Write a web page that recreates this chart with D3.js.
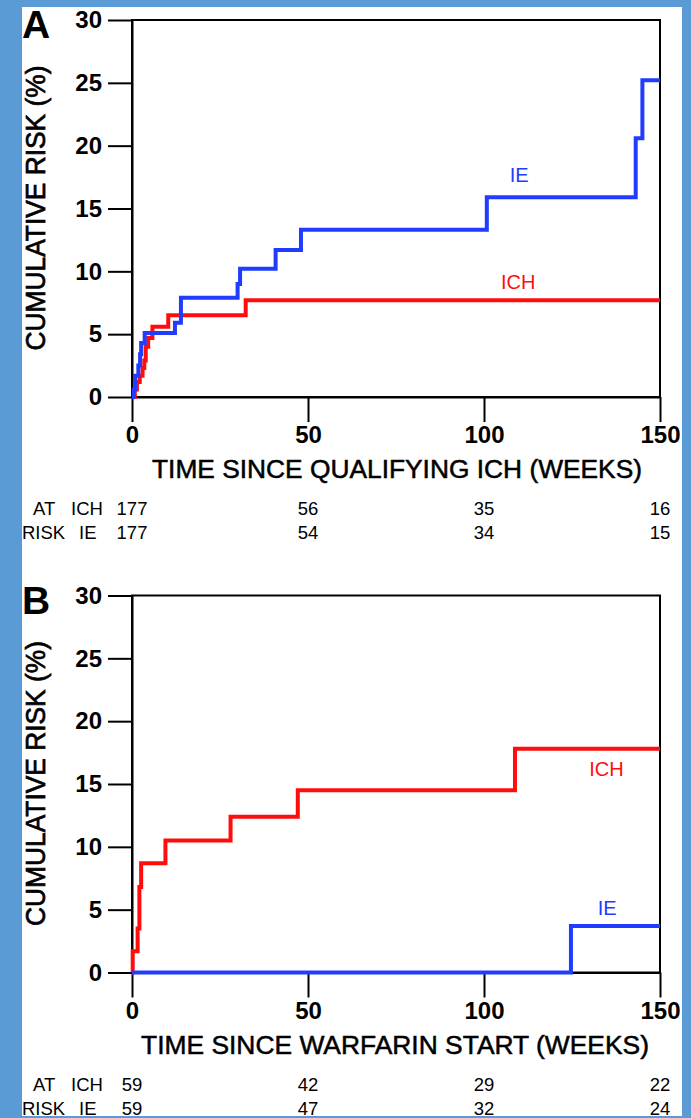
<!DOCTYPE html>
<html>
<head>
<meta charset="utf-8">
<script src="https://cdn.jsdelivr.net/npm/d3@7"></script>
<style>
  body { margin: 0; background: #5b9bd5; }
  svg { display: block; }
</style>
</head>
<body>
<script>
// Axis ticks shared by both panels
const weekTicks = [0, 50, 100, 150];
const riskTicks = [0, 5, 10, 15, 20, 25, 30];

// Panel A: cumulative risk since the qualifying ICH (Kaplan-Meier steps)
const aIchWeeks = [0, 0.8, 1.4, 2.2, 3.0, 3.5, 3.9, 4.6, 5.8, 10.3, 32.3, 150];
const aIchRisk  = [0, 0.6, 1.2, 1.7, 2.3, 2.9, 4.0, 4.7, 5.6, 6.5, 7.7, 7.7];
const aIeWeeks  = [0, 0.5, 0.9, 1.8, 2.3, 2.6, 3.6, 12.2, 13.9, 30.0, 30.7, 40.8, 48.0, 100.8, 143.1, 145.0, 150];
const aIeRisk   = [0, 0.6, 1.7, 2.5, 3.4, 4.3, 5.1, 5.9, 7.9, 9.0, 10.2, 11.7, 13.3, 15.9, 20.6, 25.2, 25.2];
const aAtRiskIch = [177, 56, 35, 16];
const aAtRiskIe  = [177, 54, 34, 15];

// Panel B: cumulative risk since warfarin start
const bIchWeeks = [0, 0.2, 1.6, 2.1, 2.6, 9.5, 28.0, 47.1, 108.8, 150];
const bIchRisk  = [0, 1.7, 3.5, 6.8, 8.7, 10.5, 12.4, 14.5, 17.8, 17.8];
const bIeWeeks  = [0, 124.7, 150];
const bIeRisk   = [0, 3.7, 3.7];
const bAtRiskIch = [59, 42, 29, 22];
const bAtRiskIe  = [59, 47, 32, 24];

const W = 691, H = 1118;
const FONT = "'Liberation Sans', Arial, Helvetica, sans-serif";
const BLUE = "#1f3cff", RED = "#ff0d0d";

const svg = d3.select("body").append("svg")
  .attr("width", W).attr("height", H)
  .style("font-family", FONT);

svg.append("rect").attr("width", W).attr("height", H).attr("fill", "#5b9bd5");
svg.append("rect").attr("x", 22).attr("y", 7).attr("width", 660).attr("height", 1109).attr("fill", "#fff");

const x = d3.scaleLinear().domain([0, 150]).range([132, 660]);
const y = d3.scaleLinear().domain([0, 30]).range([397, 20]);

const step = d3.line().x(d => x(d[0])).y(d => y(d[1])).curve(d3.curveStepAfter);

function panel(cfg) {
  const g = svg.append("g").attr("transform", `translate(0,${cfg.dy})`);

  // panel letter
  g.append("text").attr("x", 22).attr("y", 38)
    .attr("font-size", 39).attr("font-weight", "bold").text(cfg.letter);

  // plot frame
  g.append("rect")
    .attr("x", x(0)).attr("y", y(30))
    .attr("width", x(150) - x(0)).attr("height", y(0) - y(30))
    .attr("fill", "none").attr("stroke", "#000").attr("stroke-width", 2);

  const yAxis = g.append("g").attr("transform", `translate(${x(0)},0)`)
    .call(d3.axisLeft(y).tickValues(riskTicks).tickSize(24).tickPadding(6).tickSizeOuter(0));
  const xAxis = g.append("g").attr("transform", `translate(0,${y(0)})`)
    .call(d3.axisBottom(x).tickValues(weekTicks).tickSize(25).tickPadding(4).tickSizeOuter(0));

  [yAxis, xAxis].forEach(a => {
    a.attr("font-family", FONT).attr("font-size", 24).attr("font-weight", "bold");
    a.selectAll("line, path").attr("stroke", "#000").attr("stroke-width", 2);
    a.selectAll("text").attr("fill", "#000");
  });

  // axis titles (condensed, medium weight)
  g.append("text")
    .attr("transform", `translate(45,${cfg.yTitleY}) rotate(-90)`)
    .attr("text-anchor", "middle").attr("font-size", 27)
    .attr("stroke", "#000").attr("stroke-width", 0.7)
    .attr("textLength", 285).attr("lengthAdjust", "spacingAndGlyphs")
    .text("CUMULATIVE RISK (%)");
  g.append("text")
    .attr("x", cfg.xTitleX).attr("y", 478)
    .attr("text-anchor", "middle").attr("font-size", 25)
    .attr("stroke", "#000").attr("stroke-width", 0.5)
    .attr("textLength", cfg.xTitleLen).attr("lengthAdjust", "spacingAndGlyphs")
    .text(cfg.xTitle);

  // survival step curves
  const series = [
    { w: cfg.ieWeeks, r: cfg.ieRisk, c: BLUE },
    { w: cfg.ichWeeks, r: cfg.ichRisk, c: RED }
  ];
  series.slice().reverse().forEach(s => {
    g.append("path")
      .datum(s.w.map((w, i) => [w, s.r[i]]))
      .attr("d", step)
      .attr("fill", "none").attr("stroke", s.c).attr("stroke-width", 4)
      .attr("stroke-linejoin", "miter");
  });

  // curve labels
  cfg.labels.forEach(l => {
    g.append("text").attr("x", x(l.w)).attr("y", y(l.r))
      .attr("text-anchor", "middle").attr("font-size", 20)
      .attr("fill", l.c).text(l.t);
  });

  // number at risk table
  const rows = [
    { lead: [["AT", 33], ["ICH", 71]], vals: cfg.atIch, by: 515 },
    { lead: [["RISK", 22], ["IE", 79]], vals: cfg.atIe, by: 539 }
  ];
  rows.forEach(row => {
    row.lead.forEach(([t, lx]) => {
      g.append("text").attr("x", lx).attr("y", row.by).attr("font-size", 18.5).text(t);
    });
    g.selectAll(null).data(row.vals).enter().append("text")
      .attr("x", (d, i) => x(weekTicks[i])).attr("y", row.by)
      .attr("text-anchor", "middle").attr("font-size", 18.5)
      .text(d => d);
  });
}

panel({
  dy: 0, letter: "A", yTitleY: 208,
  xTitle: "TIME SINCE QUALIFYING ICH (WEEKS)", xTitleX: 397, xTitleLen: 490,
  ichWeeks: aIchWeeks, ichRisk: aIchRisk, ieWeeks: aIeWeeks, ieRisk: aIeRisk,
  atIch: aAtRiskIch, atIe: aAtRiskIe,
  labels: [
    { t: "IE", w: 110, r: 17.1, c: BLUE },
    { t: "ICH", w: 109.7, r: 8.6, c: RED }
  ]
});

panel({
  dy: 575.5, letter: "B", yTitleY: 208,
  xTitle: "TIME SINCE WARFARIN START (WEEKS)", xTitleX: 395, xTitleLen: 508,
  ichWeeks: bIchWeeks, ichRisk: bIchRisk, ieWeeks: bIeWeeks, ieRisk: bIeRisk,
  atIch: bAtRiskIch, atIe: bAtRiskIe,
  labels: [
    { t: "ICH", w: 134.8, r: 15.6, c: RED },
    { t: "IE", w: 135, r: 4.6, c: BLUE }
  ]
});
</script>
</body>
</html>
